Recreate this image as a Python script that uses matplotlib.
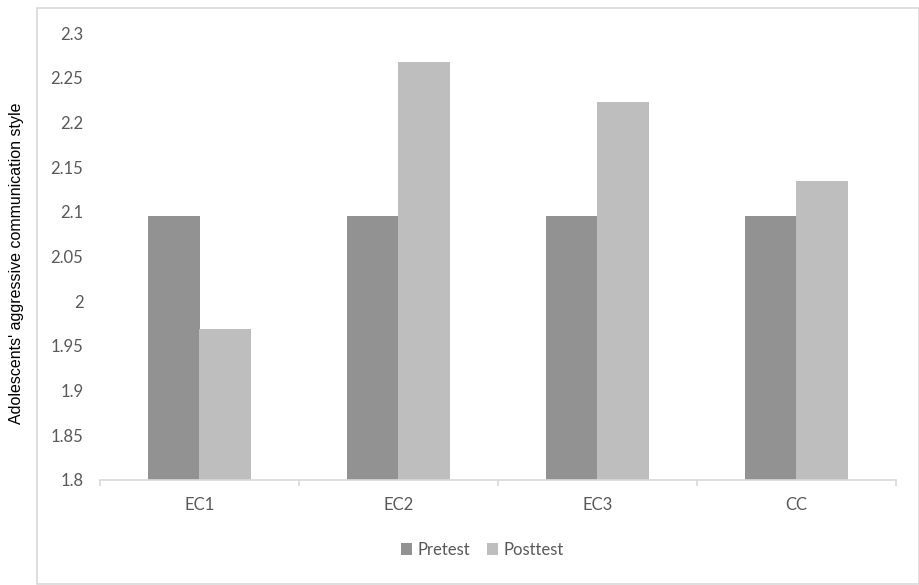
import matplotlib.pyplot as plt
import matplotlib.patches as mpatches
import numpy as np

# Data
groups = ["EC1", "EC2", "EC3", "CC"]
pretest = [2.095, 2.095, 2.095, 2.095]
posttest = [1.969, 2.268, 2.223, 2.135]
yticks = [1.8, 1.85, 1.9, 1.95, 2.0, 2.05, 2.1, 2.15, 2.2, 2.25, 2.3]
ytick_labels = ["1.8", "1.85", "1.9", "1.95", "2", "2.05", "2.1", "2.15", "2.2", "2.25", "2.3"]

pre_color = "#929292"
post_color = "#bebebe"
text_color = "#595959"
tick_font = "Lato"

fig = plt.figure(figsize=(9.2, 5.85), dpi=100)
ax = fig.add_axes([100 / 920, 1 - 480 / 585, 796 / 920, 447 / 585])

# Outer chart frame
fig.patches.append(mpatches.Rectangle((37 / 920, 1 / 585), 882 / 920, 576 / 585,
                                      transform=fig.transFigure, fill=False,
                                      edgecolor="#d9d9d9", linewidth=1.2))

x = np.arange(len(groups))
w = 0.26
ax.bar(x - w / 2, pretest, width=w, color=pre_color, label="Pretest", zorder=2)
ax.bar(x + w / 2, posttest, width=w, color=post_color, label="Posttest", zorder=2)

ax.set_xlim(-0.5, len(groups) - 0.5)
ax.set_ylim(1.8, 2.3)

ax.set_yticks(yticks)
ax.set_yticklabels(ytick_labels, fontfamily=tick_font, fontsize=12, color=text_color)
ax.tick_params(axis="y", length=0, pad=12)

ax.set_xticks(x)
ax.set_xticklabels(groups, fontfamily=tick_font, fontsize=12, color=text_color)
ax.tick_params(axis="x", which="major", length=0, pad=12)
ax.set_xticks(np.arange(-0.5, len(groups), 1.0), minor=True)
ax.tick_params(axis="x", which="minor", length=4, color="#d9d9d9", width=1.2)

for side in ["top", "right", "left"]:
    ax.spines[side].set_visible(False)
ax.spines["bottom"].set_color("#d9d9d9")
ax.spines["bottom"].set_linewidth(1.2)

fig.text(17 / 920, 1 - 263 / 585, "Adolescents' aggressive communication style",
         rotation=90, ha="center", va="center", fontsize=11.5,
         fontfamily="Liberation Sans", color="black")

leg = fig.legend(loc="center", bbox_to_anchor=(482 / 920, 1 - 550 / 585), ncol=2,
                 frameon=False, handlelength=0.7, handleheight=0.7,
                 handletextpad=0.3, columnspacing=1.0,
                 prop={"family": tick_font, "size": 12})
for t in leg.get_texts():
    t.set_color(text_color)

fig.savefig("out.png", dpi=100)
